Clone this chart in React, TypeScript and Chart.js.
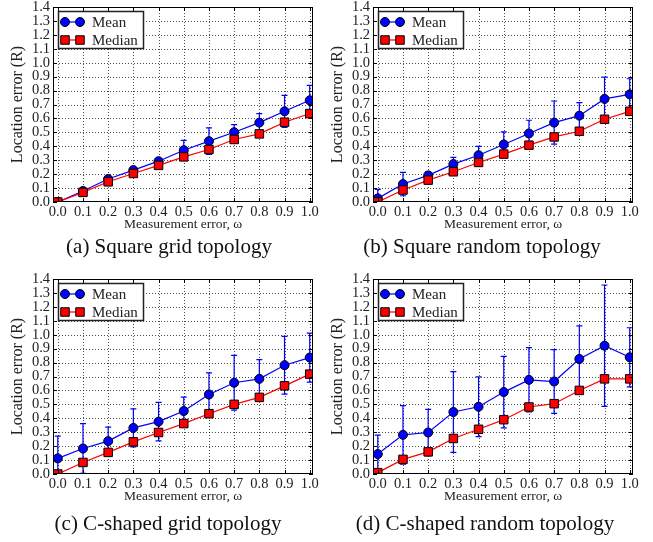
import React, { useEffect, useRef } from "react";
import { Chart, registerables } from "chart.js";

Chart.register(...registerables);

// ---------- data ----------
const omega = [0.0, 0.1, 0.2, 0.3, 0.4, 0.5, 0.6, 0.7, 0.8, 0.9, 1.0];
const xTickValues = [0.0, 0.1, 0.2, 0.3, 0.4, 0.5, 0.6, 0.7, 0.8, 0.9, 1.0];
const yTickValues = [0.0, 0.1, 0.2, 0.3, 0.4, 0.5, 0.6, 0.7, 0.8, 0.9, 1.0, 1.1, 1.2, 1.3, 1.4];
const seriesLabels = ["Mean", "Median"];

const squareGridMean = [0.0, 0.079, 0.165, 0.229, 0.293, 0.372, 0.437, 0.501, 0.57, 0.651, 0.73];
const squareGridMeanErr = [0.0, 0.01, 0.015, 0.02, 0.02, 0.07, 0.095, 0.055, 0.065, 0.115, 0.108];
const squareGridMedian = [0.0, 0.069, 0.145, 0.205, 0.263, 0.324, 0.377, 0.449, 0.489, 0.573, 0.635];

const squareRandomMean = [0.026, 0.129, 0.191, 0.272, 0.336, 0.413, 0.492, 0.57, 0.62, 0.74, 0.773];
const squareRandomMeanErr = [0.065, 0.084, 0.026, 0.048, 0.064, 0.09, 0.095, 0.155, 0.094, 0.157, 0.112];
const squareRandomMedian = [0.0, 0.086, 0.157, 0.217, 0.284, 0.344, 0.408, 0.467, 0.508, 0.594, 0.651];

const cGridMean = [0.112, 0.183, 0.236, 0.331, 0.376, 0.452, 0.571, 0.655, 0.683, 0.781, 0.836];
const cGridMeanErr = [0.16, 0.179, 0.1, 0.136, 0.138, 0.1, 0.155, 0.197, 0.138, 0.207, 0.176];
const cGridMedian = [0.0, 0.083, 0.155, 0.231, 0.298, 0.362, 0.433, 0.5, 0.55, 0.633, 0.717];

const cRandomMean = [0.143, 0.281, 0.298, 0.445, 0.483, 0.588, 0.676, 0.664, 0.826, 0.921, 0.838];
const cRandomMeanErr = [0.136, 0.21, 0.166, 0.29, 0.215, 0.257, 0.231, 0.229, 0.238, 0.436, 0.212];
const cRandomMedian = [0.01, 0.105, 0.159, 0.255, 0.321, 0.39, 0.481, 0.505, 0.6, 0.683, 0.683];

// ---------- styles ----------
const SERIF = "'Liberation Serif', 'Times New Roman', serif";
const BLUE = "#0000ff";
const RED = "#ff0000";
const TEXT = "#222";

type PanelProps = {
  left: number;
  top: number;
  width: number;
  height: number;
  padRight: number;
  mean: number[];
  err: number[];
  median: number[];
  caption: string;
  capX: number;
  capY: number;
};

function drawMarker(ctx: CanvasRenderingContext2D, kind: string, x: number, y: number, color: string) {
  ctx.save();
  ctx.fillStyle = color;
  ctx.strokeStyle = "#000";
  ctx.lineWidth = 1;
  ctx.beginPath();
  if (kind === "circle") {
    ctx.arc(x, y, 4.5, 0, Math.PI * 2);
  } else {
    ctx.rect(x - 4.25, y - 4.25, 8.5, 8.5);
  }
  ctx.fill();
  ctx.stroke();
  ctx.restore();
}

function Panel(p: PanelProps) {
  const ref = useRef<HTMLCanvasElement | null>(null);

  useEffect(() => {
    if (!ref.current) return;

    const decor = {
      id: "decor",
      beforeDatasetsDraw(chart: any) {
        const { ctx, chartArea: a, scales } = chart;
        const x = scales.x;
        const y = scales.y;
        ctx.save();
        // dotted grid
        ctx.strokeStyle = "rgba(0,0,0,0.7)";
        ctx.lineWidth = 1;
        ctx.setLineDash([1, 2]);
        xTickValues.forEach((v) => {
          const px = Math.round(x.getPixelForValue(v)) + 0.5;
          if (px <= a.left + 1 || px >= a.right - 1) return;
          ctx.beginPath();
          ctx.moveTo(px, a.top);
          ctx.lineTo(px, a.bottom);
          ctx.stroke();
        });
        yTickValues.forEach((v) => {
          const py = Math.round(y.getPixelForValue(v)) + 0.5;
          if (py <= a.top + 1 || py >= a.bottom - 1) return;
          ctx.beginPath();
          ctx.moveTo(a.left, py);
          ctx.lineTo(a.right, py);
          ctx.stroke();
        });
        ctx.setLineDash([]);
        // error bars
        ctx.beginPath();
        ctx.rect(a.left, a.top, a.right - a.left, a.bottom - a.top);
        ctx.clip();
        ctx.strokeStyle = BLUE;
        ctx.lineWidth = 1.2;
        omega.forEach((w, i) => {
          const e = p.err[i];
          if (!e) return;
          const px = x.getPixelForValue(w);
          const t = y.getPixelForValue(p.mean[i] + e);
          const b = y.getPixelForValue(p.mean[i] - e);
          ctx.beginPath();
          ctx.moveTo(px, t);
          ctx.lineTo(px, b);
          ctx.moveTo(px - 3, t);
          ctx.lineTo(px + 3, t);
          ctx.moveTo(px - 3, b);
          ctx.lineTo(px + 3, b);
          ctx.stroke();
        });
        ctx.restore();
      },
      afterDatasetsDraw(chart: any) {
        const { ctx, chartArea: a, scales } = chart;
        const x = scales.x;
        const y = scales.y;
        ctx.save();
        // frame
        ctx.strokeStyle = "#000";
        ctx.lineWidth = 1;
        ctx.strokeRect(Math.round(a.left) + 0.5, Math.round(a.top) + 0.5, Math.round(a.right - a.left) - 1, Math.round(a.bottom - a.top) - 1);
        // inward ticks
        ctx.beginPath();
        xTickValues.forEach((v) => {
          const px = Math.round(x.getPixelForValue(v)) + 0.5;
          ctx.moveTo(px, a.bottom);
          ctx.lineTo(px, a.bottom - 4);
          ctx.moveTo(px, a.top);
          ctx.lineTo(px, a.top + 4);
        });
        yTickValues.forEach((v) => {
          const py = Math.round(y.getPixelForValue(v)) + 0.5;
          ctx.moveTo(a.left, py);
          ctx.lineTo(a.left + 4, py);
          ctx.moveTo(a.right, py);
          ctx.lineTo(a.right - 4, py);
        });
        ctx.stroke();
        // legend
        const lx = Math.round(a.left) + 5;
        const ly = Math.round(a.top) + 4;
        const lw = 85;
        const lh = 37;
        ctx.fillStyle = "#fff";
        ctx.fillRect(lx, ly, lw, lh);
        ctx.strokeStyle = "#222";
        ctx.lineWidth = 1.5;
        ctx.strokeRect(lx + 0.5, ly + 0.5, lw, lh);
        const ds = chart.data.datasets;
        ds.forEach((d: any, i: number) => {
          const ry = ly + 11 + i * 18;
          ctx.strokeStyle = d.borderColor;
          ctx.lineWidth = 1.2;
          ctx.beginPath();
          ctx.moveTo(lx + 7, ry);
          ctx.lineTo(lx + 22, ry);
          ctx.stroke();
          drawMarker(ctx, d.pointStyle, lx + 7, ry, d.pointBackgroundColor);
          drawMarker(ctx, d.pointStyle, lx + 22, ry, d.pointBackgroundColor);
          ctx.fillStyle = TEXT;
          ctx.font = `15px ${SERIF}`;
          ctx.textBaseline = "middle";
          ctx.textAlign = "left";
          ctx.fillText(d.label, lx + 34, ry + 1);
        });
        ctx.restore();
      },
    };

    const tickFont = { family: SERIF, size: 14.5 };
    const chart = new Chart(ref.current, {
      type: "line",
      data: {
        datasets: [
          {
            label: seriesLabels[0],
            data: omega.map((w, i) => ({ x: w, y: p.mean[i] })),
            borderColor: BLUE,
            backgroundColor: BLUE,
            borderWidth: 1.2,
            pointStyle: "circle",
            pointRadius: 4.5,
            pointBackgroundColor: BLUE,
            pointBorderColor: "#000",
            pointBorderWidth: 1,
            tension: 0,
            clip: 0,
            order: 1,
          },
          {
            label: seriesLabels[1],
            data: omega.map((w, i) => ({ x: w, y: p.median[i] })),
            borderColor: RED,
            backgroundColor: RED,
            borderWidth: 1.2,
            pointStyle: "rect",
            pointRadius: 6,
            pointBackgroundColor: RED,
            pointBorderColor: "#000",
            pointBorderWidth: 1,
            tension: 0,
            clip: 0,
            order: 0,
          },
        ],
      },
      options: {
        responsive: false,
        animation: false,
        events: [],
        layout: { padding: { top: 6, left: 0, right: p.padRight, bottom: 0 } },
        plugins: {
          legend: { display: false },
          tooltip: { enabled: false },
        },
        scales: {
          x: {
            type: "linear",
            min: -0.019,
            max: 1.013,
            afterBuildTicks: (s: any) => {
              s.ticks = xTickValues.map((v) => ({ value: v }));
            },
            afterFit: (s: any) => {
              s.height = 38;
              s.paddingLeft = 0;
              s.paddingRight = 0;
            },
            grid: { display: false, drawTicks: false, tickLength: 0 },
            border: { display: false },
            ticks: {
              autoSkip: false,
              maxRotation: 0,
              minRotation: 0,
              padding: 1,
              color: TEXT,
              font: tickFont,
              callback: (v: any) => Number(v).toFixed(1),
            },
            title: {
              display: true,
              text: "Measurement error, ω",
              color: TEXT,
              font: { family: SERIF, size: 13.5 },
              padding: { top: 0, bottom: 7 },
            },
          },
          y: {
            type: "linear",
            min: 0,
            max: 1.4,
            afterBuildTicks: (s: any) => {
              s.ticks = yTickValues.map((v) => ({ value: v }));
            },
            afterFit: (s: any) => {
              s.width = 53;
              s.paddingTop = 0;
              s.paddingBottom = 0;
            },
            grid: { display: false, drawTicks: false, tickLength: 0 },
            border: { display: false },
            ticks: {
              autoSkip: false,
              padding: 3,
              color: TEXT,
              font: tickFont,
              callback: (v: any) => Number(v).toFixed(1),
            },
            title: {
              display: true,
              text: "Location error (R)",
              color: TEXT,
              font: { family: SERIF, size: 16 },
              padding: { top: 8, bottom: 0 },
            },
          },
        },
      },
      plugins: [decor],
    } as any);

    return () => chart.destroy();
  }, []);

  return (
    <>
      <canvas
        ref={ref}
        width={p.width}
        height={p.height}
        style={{ position: "absolute", left: p.left, top: p.top, width: p.width, height: p.height }}
      />
      <div
        style={{
          position: "absolute",
          left: p.capX,
          top: p.capY - 12,
          transform: "translateX(-50%)",
          whiteSpace: "nowrap",
          fontFamily: SERIF,
          fontSize: 21,
          lineHeight: "24px",
          color: "#111",
        }}
      >
        {p.caption}
      </div>
    </>
  );
}

export default function App() {
  return (
    <div
      style={{
        position: "absolute",
        left: 0,
        top: 0,
        width: 653,
        height: 542,
        background: "#fff",
        overflow: "hidden",
      }}
    >
      <Panel left={0} top={0} width={326} height={240} padRight={13}
        mean={squareGridMean} err={squareGridMeanErr} median={squareGridMedian}
        caption="(a) Square grid topology" capX={169} capY={246} />
      <Panel left={320} top={0} width={333} height={240} padRight={20}
        mean={squareRandomMean} err={squareRandomMeanErr} median={squareRandomMedian}
        caption="(b) Square random topology" capX={482} capY={246} />
      <Panel left={0} top={272} width={326} height={240} padRight={13}
        mean={cGridMean} err={cGridMeanErr} median={cGridMedian}
        caption="(c) C-shaped grid topology" capX={168} capY={523} />
      <Panel left={320} top={272} width={333} height={240} padRight={20}
        mean={cRandomMean} err={cRandomMeanErr} median={cRandomMedian}
        caption="(d) C-shaped random topology" capX={485} capY={523} />
    </div>
  );
}
